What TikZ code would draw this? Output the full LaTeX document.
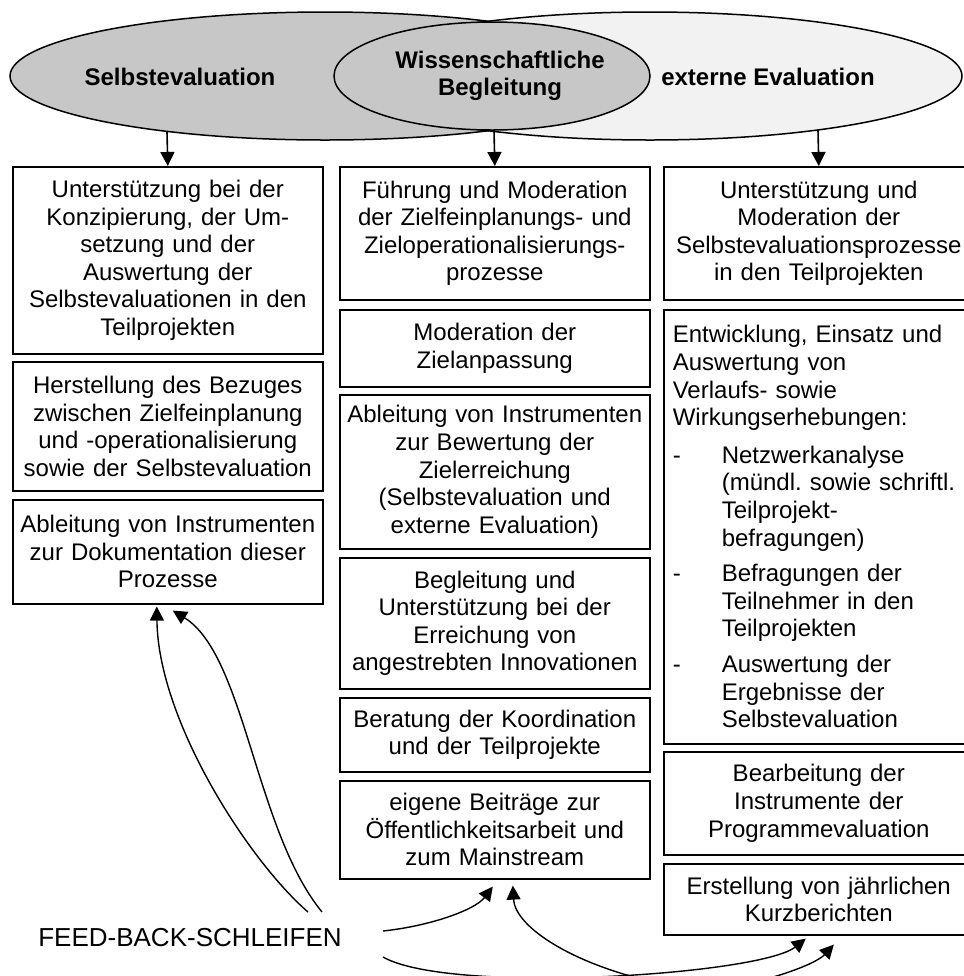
\documentclass[tikz,border=0pt]{standalone}
\usepackage{fontspec}
\setmainfont{Liberation Sans}
\usetikzlibrary{arrows.meta,shapes.geometric}
\begin{document}
\begin{tikzpicture}[x=0.5pt,y=-0.5pt,
    box/.style={draw,line width=0.8pt,anchor=north west,inner xsep=2.5pt,inner ysep=0pt,
        text width=150pt,align=center,font=\fontsize{12}{13.8}\selectfont},
    bubble/.style={ellipse,draw,line width=0.75pt,inner sep=0pt},
    bubbletext/.style={font=\fontsize{12}{13.5}\selectfont\bfseries,align=center},
    downarrow/.style={-{Triangle[length=7pt,width=7pt]},line width=0.8pt},
    feedback/.style={-{Triangle[length=7pt,width=7pt]},line width=0.7pt}]
\useasboundingbox (0,0) rectangle (964,976);
\clip (0,0) rectangle (964,976);

\node[bubble,fill=black!22,minimum width=315pt,minimum height=64pt] (selbst) at (325,76) {};
\node[bubble,fill=black!5,minimum width=312pt,minimum height=64pt] (ext) at (650,76) {};
\node[bubble,fill=black!22,minimum width=158pt,minimum height=54pt] (wiss) at (492,76) {};
\node[bubbletext] (tselbst) at (180,77) {Selbstevaluation};
\node[bubbletext] (twiss) at (500,75.5) {Wissenschaftliche\\Begleitung};
\node[bubbletext] (text) at (768,77) {externe Evaluation};

\node[box,minimum height=93.5pt] (l1) at (12,166) {Unterstützung bei der\\Konzipierung, der Um-\\setzung und der\\Auswertung der\\Selbstevaluationen in den\\Teilprojekten};
\node[box,minimum height=64.5pt] (l2) at (12,361) {Herstellung des Bezuges\\zwischen Zielfeinplanung\\und -operationalisierung\\sowie der Selbstevaluation};
\node[box,minimum height=52pt] (l3) at (12,499) {Ableitung von Instrumenten\\zur Dokumentation dieser\\Prozesse};

\node[box,minimum height=66.5pt] (m1) at (339,166) {Führung und Moderation\\der Zielfeinplanungs- und\\Zieloperationalisierungs-\\prozesse};
\node[box,minimum height=38.5pt] (m2) at (339,309) {Moderation der\\Zielanpassung};
\node[box,minimum height=77pt] (m3) at (339,394) {Ableitung von Instrumenten\\zur Bewertung der\\Zielerreichung\\(Selbstevaluation und\\externe Evaluation)};
\node[box,minimum height=65.5pt] (m4) at (339,557) {Begleitung und\\Unterstützung bei der\\Erreichung von\\angestrebten Innovationen};
\node[box,minimum height=37pt] (m5) at (339,697) {Beratung der Koordination\\und der Teilprojekte};
\node[box,minimum height=49pt] (m6) at (339,780) {eigene Beiträge zur\\Öffentlichkeitsarbeit und\\zum Mainstream};

\node[box,minimum height=66.5pt] (r1) at (663,166) {Unterstützung und\\Moderation der\\Selbstevaluationsprozesse\\in den Teilprojekten};
\node[box,align=left,text width=146pt,inner xsep=4.5pt,minimum height=217pt] (r2) at (663,309) {Entwicklung, Einsatz und\\Auswertung von\\Verlaufs- sowie\\Wirkungserhebungen:\\[5pt]
    \makebox[24.5pt][l]{-}Netzwerkanalyse\\
    \hspace*{24.5pt}(mündl.\ sowie schriftl.\\
    \hspace*{24.5pt}Teilprojekt-\\
    \hspace*{24.5pt}befragungen)\\[4pt]
    \makebox[24.5pt][l]{-}Befragungen der\\
    \hspace*{24.5pt}Teilnehmer in den\\
    \hspace*{24.5pt}Teilprojekten\\[4pt]
    \makebox[24.5pt][l]{-}Auswertung der\\
    \hspace*{24.5pt}Ergebnisse der\\
    \hspace*{24.5pt}Selbstevaluation};
\node[box,minimum height=51.5pt] (r3) at (663,751) {Bearbeitung der\\Instrumente der\\Programmevaluation};
\node[box,minimum height=35.5pt] (r4) at (663,863) {Erstellung von jährlichen\\Kurzberichten};

\coordinate (aselbst) at (167,132);
\coordinate (awiss) at (494,130);
\coordinate (aext) at (818,130);
\draw[downarrow] (aselbst) -- (l1.north);
\draw[downarrow] (awiss) -- (m1.north);
\draw[downarrow] (aext) -- (r1.north);

\node[font=\fontsize{13}{15}\selectfont] (fb) at (190,938) {FEED-BACK-SCHLEIFEN};
\coordinate (fbA) at (308,912);
\coordinate (fbB) at (322,912);
\coordinate (fbC) at (383,931);
\coordinate (fbE) at (383,957);
\coordinate (offD) at (645,980);
\coordinate (offF) at (700,992);
\draw[feedback] (fbA) .. controls (248,860) and (158,720) .. ([xshift=-5.5pt,yshift=-1pt]l3.south);
\draw[feedback] (fbB) .. controls (255,830) and (245,655) .. ([xshift=2.5pt,yshift=-3pt]l3.south);
\draw[feedback] (fbC) .. controls (430,926) and (475,910) .. ([xshift=-1pt,yshift=-3.5pt]m6.south);
\draw[feedback] (offD) .. controls (565,960) and (515,925) .. ([xshift=9pt,yshift=-3pt]m6.south);
\draw[feedback] (fbE) .. controls (450,995) and (760,975) .. ([xshift=-6.5pt,yshift=-1.5pt]r4.south);
\draw[feedback] (offF) .. controls (760,985) and (815,965) .. ([xshift=7.5pt,yshift=-4.5pt]r4.south);
\end{tikzpicture}
\end{document}
